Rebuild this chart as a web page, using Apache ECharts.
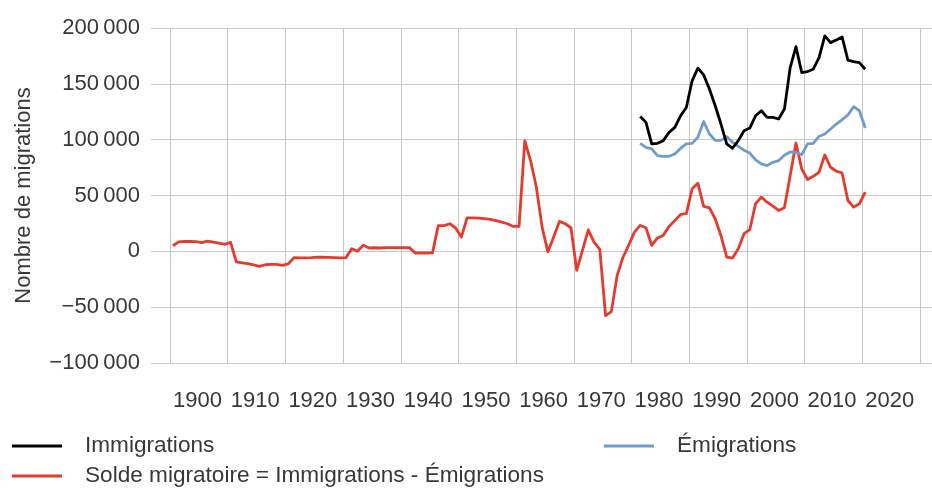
<!DOCTYPE html>
<html>
<head>
<meta charset="utf-8">
<script src="https://cdn.jsdelivr.net/npm/echarts/dist/echarts.min.js"></script>
<style>
  html, body { margin: 0; padding: 0; background: #fff; }
  #chart { width: 932px; height: 488px; }
</style>
</head>
<body>
<div id="chart"></div>
<script>
// Solde migratoire, 1900 - 2020
const soldeStart = 1900;
const soldeValues = [
  5000, 8500, 8800, 8800, 8700, 7800, 9200, 8300, 7300, 6300,
  8000, -9500, -10300, -11000, -12200, -13400, -12000, -11600, -11600, -12500,
  -11200, -5700, -5800, -5900, -5600, -5100, -5300, -5500, -5700, -5800,
  -5700, 2400, 0, 5400, 3000, 3200, 3000, 3300, 3300, 3200,
  3300, 3300, -1500, -1500, -1500, -1400, 23000, 23000, 24700, 21000,
  12800, 30000, 30000, 29800, 29200, 28600, 27500, 26200, 24700, 22300,
  22300, 99000, 81300, 57400, 21700, -500, 12800, 26800, 24700, 21100,
  -17000, 900, 19300, 8300, 1800, -57500, -54000, -22000, -5500, 5400,
  17200, 23200, 21100, 5400, 12000, 14300, 22300, 27500, 33000, 33700,
  56000, 61000, 40200, 39000, 29200, 14000, -5100, -6000, 2400, 15800,
  19400, 42600, 48500, 44000, 40400, 36600, 39000, 68000, 97000, 73800,
  64300, 67200, 70800, 86300, 75300, 71700, 70200, 45500, 39600, 42600, 53000
];

// Immigrations / Emigrations, 1981 - 2020
const fluxStart = 1981;
const immigrations = [
  120800, 115500, 96200, 96700, 99100, 106500, 111000, 121400, 128800, 152700,
  164000, 158000, 145300, 130400, 114000, 96200, 92300, 99100, 108000, 110400,
  121400, 125900, 119900, 119900, 118500, 127400, 164600, 183300, 160100, 161000,
  163100, 173500, 192900, 186900, 189300, 192000, 171200, 169900, 169000, 163100
];
const emigrations = [
  96700, 93100, 91700, 85700, 85100, 85100, 87200, 92200, 96200, 96700,
  102100, 116300, 105100, 99400, 99400, 102700, 97800, 94000, 90500, 88000,
  82000, 78300, 76800, 79700, 81300, 86000, 89000, 88500, 86500, 96200,
  96700, 102900, 105100, 109600, 114000, 117900, 122100, 129500, 125900, 110400
];

const nomImmig = 'Immigrations';
const nomEmig = 'Émigrations';
const nomSolde = 'Solde migratoire = Immigrations - Émigrations';

const font = '"Liberation Sans", Arial, sans-serif';
const textColor = '#383838';
const gridColor = '#c8c8c8';

// valeurs annuelles placees au milieu de l'annee
function toPairs(start, values) {
  return values.map(function (v, i) { return [start + i + 0.5, v]; });
}

function fmtNombre(v) {
  const s = Math.abs(v).toString().replace(/\B(?=(\d{3})+(?!\d))/g, '\u2009');
  return (v < 0 ? '\u2212' : '') + s;
}

const legendBase = {
  icon: 'rect',
  itemWidth: 50,
  itemHeight: 3,
  padding: 0,
  selectedMode: false,
  textStyle: {
    fontFamily: font,
    fontSize: 22.6,
    color: textColor,
    lineHeight: 24,
    padding: [0, 0, 0, 18]
  }
};

const option = {
  animation: false,
  grid: { left: 170, right: 12, top: 28, bottom: 125 },
  legend: [
    Object.assign({}, legendBase, { data: [nomImmig], left: 12, top: 434 }),
    Object.assign({}, legendBase, { data: [nomEmig], left: 604, top: 434 }),
    Object.assign({}, legendBase, { data: [nomSolde], left: 12, top: 464 })
  ],
  xAxis: [
    {
      type: 'value',
      min: 1900,
      max: 2030,
      interval: 10,
      position: 'bottom',
      axisLine: { show: false },
      axisTick: { show: true, length: 19, lineStyle: { color: gridColor } },
      axisLabel: {
        align: 'left',
        margin: 27,
        padding: [0, 0, 0, 3],
        showMaxLabel: false,
        fontFamily: font,
        fontSize: 22,
        color: textColor,
        formatter: function (v) { return String(v); }
      },
      splitLine: { show: true, lineStyle: { color: gridColor, width: 1 } }
    },
    {
      type: 'value',
      min: 1900,
      max: 2030,
      interval: 10,
      position: 'top',
      axisLine: { show: false },
      axisTick: { show: true, length: 20, lineStyle: { color: gridColor } },
      axisLabel: { show: false },
      splitLine: { show: false }
    }
  ],
  yAxis: [
    {
      type: 'value',
      min: -100000,
      max: 200000,
      interval: 50000,
      position: 'left',
      name: 'Nombre de migrations',
      nameLocation: 'middle',
      nameGap: 135,
      nameTextStyle: { fontFamily: font, fontSize: 22, color: textColor },
      axisLine: { show: false },
      axisTick: { show: true, length: 19, lineStyle: { color: gridColor } },
      axisLabel: {
        margin: 30,
        fontFamily: font,
        fontSize: 22,
        color: textColor,
        formatter: fmtNombre
      },
      splitLine: { show: true, lineStyle: { color: gridColor, width: 1 } }
    },
    {
      type: 'value',
      min: -100000,
      max: 200000,
      interval: 50000,
      position: 'right',
      axisLine: { show: false },
      axisTick: { show: true, length: 12, lineStyle: { color: gridColor } },
      axisLabel: { show: false },
      splitLine: { show: false }
    }
  ],
  series: [
    {
      name: nomSolde,
      type: 'line',
      showSymbol: false,
      color: '#e63a2e',
      lineStyle: { width: 2.8, join: 'round' },
      data: toPairs(soldeStart, soldeValues)
    },
    {
      name: nomEmig,
      type: 'line',
      showSymbol: false,
      color: '#6e9dcb',
      lineStyle: { width: 2.8, join: 'round' },
      data: toPairs(fluxStart, emigrations)
    },
    {
      name: nomImmig,
      type: 'line',
      showSymbol: false,
      color: '#000000',
      lineStyle: { width: 2.8, join: 'round' },
      data: toPairs(fluxStart, immigrations)
    }
  ]
};

const chart = echarts.init(document.getElementById('chart'));
chart.setOption(option);
</script>
</body>
</html>
